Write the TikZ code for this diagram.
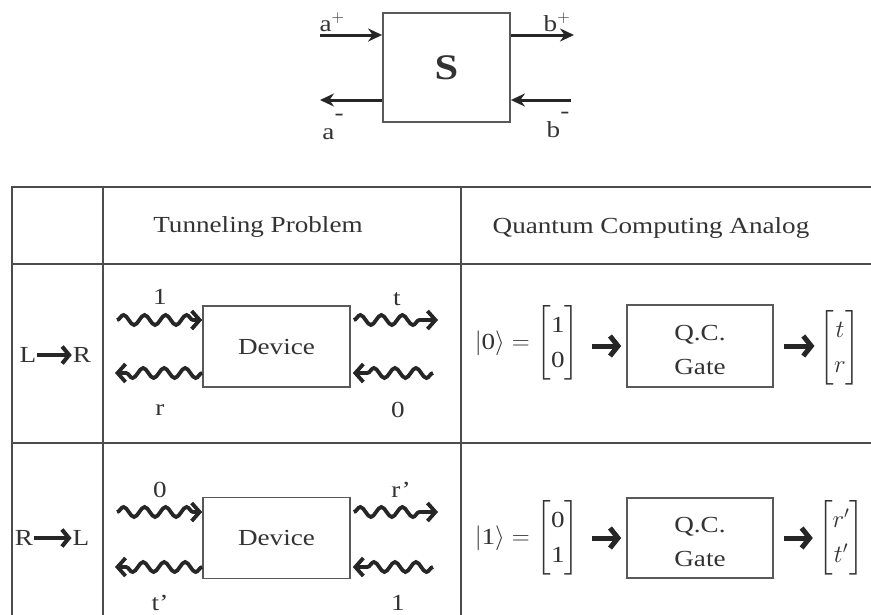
\documentclass[tikz,border=0pt]{standalone}
\usepackage{amsmath}
\usepackage{fontspec}
\setmainfont[FakeStretch=1.18]{Liberation Serif}
\usetikzlibrary{arrows.meta,decorations.pathmorphing}
\tikzset{
  tbl/.style={draw=black!70, line width=1.8pt},
  devbox/.style={draw=black!65, line width=1.6pt, minimum width=147pt, minimum height=81pt, inner sep=0pt, font=\fontsize{23}{27}\selectfont, text=black!80},
  lbl/.style={font=\fontsize{23}{27}\selectfont, text=black!80, inner sep=1pt},
  wave/.style={line width=3.8pt, black!85, decorate, decoration={snake, segment length=21pt, amplitude=5pt, post length=9pt}, -{Straight Barb[length=8pt,width=18pt,line width=3.8pt]}},
  plainarr/.style={line width=3pt, black!85, -{Stealth[length=14pt,width=13pt]}},
  fatarr/.style={line width=5pt, black!85, -{Straight Barb[length=8pt,width=20pt]}},
}
\begin{document}
\begin{tikzpicture}[x=1pt,y=-1pt]
\clip (0,0) rectangle (871,614);
\fill[white] (0,0) rectangle (871,614);
% ---- top scattering diagram
\node[draw=black!65, line width=1.8pt, minimum width=127pt, minimum height=109pt, inner sep=0pt, font=\fontsize{36}{40}\selectfont\bfseries, text=black!80] (S) at (446.5,67.5) {S};
\coordinate (ain) at (320,35);
\coordinate (aout) at (320,100);
\coordinate (bout) at (574,35);
\coordinate (bin) at (571,100);
\draw[plainarr] (ain) -- (S.west |- ain);
\draw[plainarr] (S.west |- aout) -- (aout);
\draw[plainarr] (S.east |- bout) -- (bout);
\draw[plainarr] (bin) -- (S.east |- bin);
\node[lbl] (ap) at (332,22) {a$^{+}$};
\node[lbl] (am) at (333,127) {a\raisebox{19pt}{-}};
\node[lbl] (bp) at (557,22) {b$^{+}$};
\node[lbl] (bm) at (558,125) {b\raisebox{19pt}{-}};
% ---- table grid
\draw[tbl] (12,640) -- (12,187) -- (880,187);
\draw[tbl] (12,264) -- (880,264);
\draw[tbl] (12,443) -- (880,443);
\draw[tbl] (103,187) -- (103,640);
\draw[tbl] (461,187) -- (461,640);
\node[lbl] (h1) at (258,227) {Tunneling Problem};
\node[lbl] (h2) at (651,228) {Quantum Computing Analog};
% ---- row labels
\node[lbl] (L1) at (28,355) {L};
\node[lbl] (R1) at (82,355) {R};
\draw[fatarr, line width=4pt, -{Straight Barb[length=7pt,width=17pt]}] (L1.east) -- (R1.west);
\node[lbl] (R2) at (24,538) {R};
\node[lbl] (L2) at (81,538) {L};
\draw[fatarr, line width=4pt, -{Straight Barb[length=7pt,width=17pt]}] (R2.east) -- (L2.west);
% ---- row 1 tunneling
\node[devbox] (d1) at (276.5,346.5) {Device};
\coordinate (w1a) at (117,320);
\coordinate (w1b) at (438,320);
\coordinate (w1c) at (433,373);
\coordinate (w1d) at (115,373);
\draw[wave] (w1a) -- (d1.west |- w1a);
\draw[wave] ([xshift=3pt]d1.east |- w1b) -- (w1b);
\draw[wave] (w1c) -- ([xshift=2pt]d1.east |- w1c);
\draw[wave] (d1.west |- w1d) -- (w1d);
\node[lbl] (n11) at (160,297) {1};
\node[lbl] (n12) at (397,299) {t};
\node[lbl] (n13) at (160,410) {r};
\node[lbl] (n14) at (398,410) {0};
% ---- row 2 tunneling
\node[devbox] (d2) at (276.5,538) {Device};
\coordinate (w2a) at (117,512);
\coordinate (w2b) at (438,512);
\coordinate (w2c) at (433,567);
\coordinate (w2d) at (115,567);
\draw[wave] (w2a) -- (d2.west |- w2a);
\draw[wave] ([xshift=3pt]d2.east |- w2b) -- (w2b);
\draw[wave] (w2c) -- ([xshift=2pt]d2.east |- w2c);
\draw[wave] (d2.west |- w2d) -- (w2d);
\node[lbl] (n21) at (160,490) {0};
\node[lbl] (n22) at (401,490) {r’};
\node[lbl] (n23) at (160,603) {t’};
\node[lbl] (n24) at (398,603) {1};
% ---- row 1 QC
\node[devbox, minimum width=146pt, minimum height=82pt] (g1) at (700,346) {};
\node[lbl, align=center] (g1t) at ([yshift=-4pt]g1.center) {Q.C.\\[7pt]Gate};
\node[lbl, text=black!80] (in1) at (527,343) {$|\text{0}\rangle=\renewcommand{\arraystretch}{1.3}\begin{bmatrix}\text{1}\\ \text{0}\end{bmatrix}$};
\node[lbl, text=black!80] (out1) at (840,348) {$\renewcommand{\arraystretch}{1.3}\begin{bmatrix}t\\ r\end{bmatrix}$};
\draw[fatarr, shorten <=12pt, shorten >=5pt] (in1.east |- g1.west) -- (g1.west);
\draw[fatarr, shorten <=10pt, shorten >=4pt] (g1.east) -- (out1.west |- g1.east);
% ---- row 2 QC
\node[devbox, minimum width=146pt, minimum height=80pt] (g2) at (700,538) {};
\node[lbl, align=center] (g2t) at ([yshift=-4pt]g2.center) {Q.C.\\[7pt]Gate};
\node[lbl, text=black!80] (in2) at (527,538) {$|\text{1}\rangle=\renewcommand{\arraystretch}{1.3}\begin{bmatrix}\text{0}\\ \text{1}\end{bmatrix}$};
\node[lbl, text=black!80] (out2) at (841,538) {$\renewcommand{\arraystretch}{1.3}\begin{bmatrix}r'\\ t'\end{bmatrix}$};
\draw[fatarr, shorten <=12pt, shorten >=5pt] (in2.east |- g2.west) -- (g2.west);
\draw[fatarr, shorten <=10pt, shorten >=4pt] (g2.east) -- (out2.west |- g2.east);
\end{tikzpicture}
\end{document}
